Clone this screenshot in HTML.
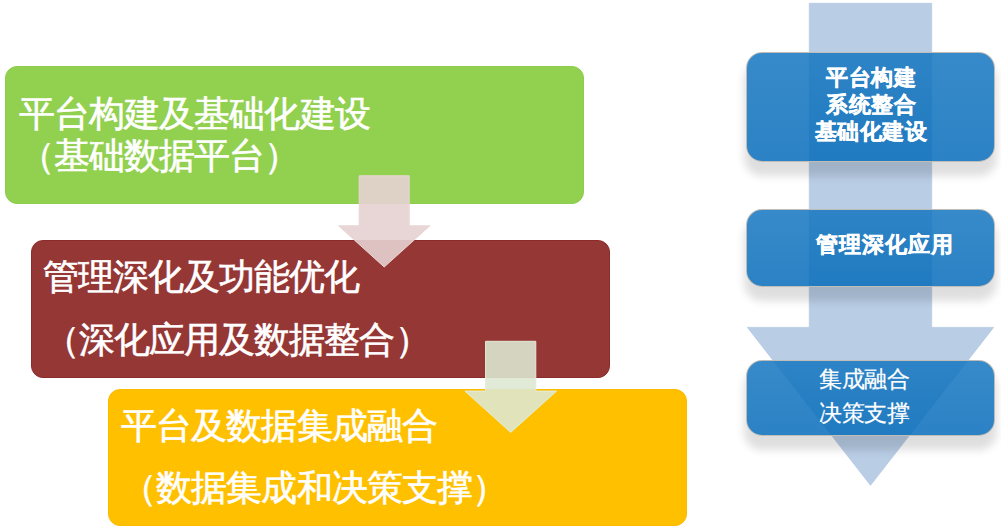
<!DOCTYPE html>
<html><head><meta charset="utf-8">
<style>
html,body{margin:0;padding:0;background:#fff;}
body{width:1001px;height:531px;overflow:hidden;position:relative;font-family:"Liberation Sans",sans-serif;}
.box{position:absolute;border-radius:12px;box-sizing:border-box;}
.t{position:absolute;white-space:nowrap;font-size:36px;letter-spacing:-0.9px;-webkit-text-stroke:0.6px #fff;line-height:1;color:#fff;}
.bb{position:absolute;border-radius:16px;box-sizing:border-box;border:1px solid rgba(200,192,184,0.95);
 background:linear-gradient(rgba(20,118,192,0.85),rgba(6,108,186,0.85));box-shadow:0 12px 9px 2px rgba(0,0,0,0.13);}
.bt{position:absolute;white-space:nowrap;color:#fff;font-size:21.5px;letter-spacing:0.5px;line-height:27px;text-align:center;-webkit-text-stroke:0.4px #fff;}
svg{position:absolute;left:0;top:0;}
</style></head><body>
<!-- left boxes -->
<div class="box" style="left:5px;top:66.2px;width:579px;height:137.8px;background:#92D050;border:1px solid #8ecd4c;"></div>
<div class="box" style="left:30.7px;top:240.4px;width:579px;height:137.4px;background:#953735;border:1px solid #8d2b2b;"></div>
<div class="box" style="left:107.5px;top:388.5px;width:579px;height:137.5px;background:#FFC000;border:1px solid #fdbb00;"></div>

<div class="t" style="left:18.8px;top:95.5px;">平台构建及基础化建设</div>
<div class="t" style="left:18.6px;top:137.8px;">（基础数据平台）</div>
<div class="t" style="left:43.2px;top:258.5px;">管理深化及功能优化</div>
<div class="t" style="left:43.6px;top:322.3px;">（深化应用及数据整合）</div>
<div class="t" style="left:121px;top:408.3px;">平台及数据集成融合</div>
<div class="t" style="left:121px;top:469.8px;">（数据集成和决策支撑）</div>

<svg width="1001" height="531" viewBox="0 0 1001 531">
 <polygon points="359.2,175.8 409.2,175.8 409.2,225.8 429.9,225.8 384.2,267 338.6,225.8 359.2,225.8" fill="rgb(230,209,209)" fill-opacity="0.9" stroke="rgb(233,214,215)" stroke-width="1"/>
 <polygon points="485.6,341.3 535.8,341.3 535.8,391.1 556.6,391.1 510.7,432.4 464.9,391.1 485.6,391.1" fill="rgb(221,231,209)" fill-opacity="0.89" stroke="rgb(226,236,217)" stroke-width="1"/>
 <polygon points="809.3,3.3 931.7,3.3 931.7,327.4 993.6,327.4 870.5,485.3 747.4,327.4 809.3,327.4" fill="#B9CDE5" stroke="#b4c9e3" stroke-width="0.8" />
</svg>

<div class="bb" style="left:746px;top:52px;width:249px;height:110px;"></div>
<div class="bb" style="left:746px;top:209px;width:249px;height:78px;"></div>
<div class="bb" style="left:746px;top:360px;width:249px;height:76px;"></div>

<div class="bt" style="left:747.5px;width:247px;top:65.2px;font-weight:bold;">平台构建<br>系统整合<br>基础化建设</div>
<div class="bt" style="left:761.3px;width:247px;top:231.6px;font-weight:bold;letter-spacing:0.9px;">管理深化应用</div>
<div class="bt" style="left:740.7px;width:247px;top:363px;line-height:33.5px;font-size:23px;letter-spacing:-0.6px;-webkit-text-stroke:0.2px #fff;">集成融合<br>决策支撑</div>
</body></html>
